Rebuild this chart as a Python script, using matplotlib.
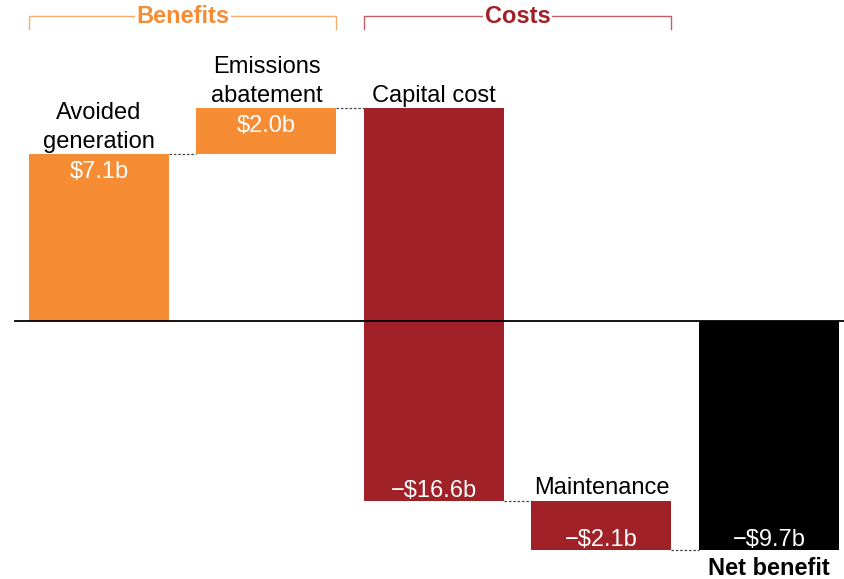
import matplotlib
matplotlib.use("Agg")
import matplotlib.pyplot as plt

# datos del gráfico (en miles de millones)
categorias = ["Avoided\ngeneration", "Emissions\nabatement", "Capital cost", "Maintenance", "Net benefit"]
valores = [7.06, 1.96, -16.64, -2.08]
neto = -9.70

naranja = "#F68D35"
rojo = "#A02228"
colores = [naranja, naranja, rojo, rojo, "black"]


def etiqueta(v):
    s = f"${abs(v):.1f}b"
    return "\u2212" + s if v < 0 else s


def main():
    plt.rcParams["font.family"] = ["Liberation Sans", "DejaVu Sans"]
    fig = plt.figure(figsize=(8.45, 5.79), dpi=100)
    ax = fig.add_axes([0, 0, 1, 1])

    # bases y alturas de la cascada
    bases, alturas = [], []
    acum = 0.0
    for v in valores:
        bases.append(acum)
        alturas.append(v)
        acum += v
    bases.append(0.0)
    alturas.append(neto)

    ancho = 0.836
    xs = range(len(categorias))
    ax.bar(xs, alturas, bottom=bases, width=ancho, color=colores, zorder=2)

    # conectores punteados
    niveles = [b + h for b, h in zip(bases, alturas)]
    for i in range(len(categorias) - 1):
        ax.plot([i + ancho / 2, i + 1 - ancho / 2], [niveles[i], niveles[i]],
                ls=(0, (2, 1.5)), color="#444444", lw=0.9, zorder=1)

    # línea del cero
    ax.plot([-0.5, 4.6], [0, 0], color="black", lw=1.3, zorder=3)

    for i, (b, h) in enumerate(zip(bases, alturas)):
        top = max(b, b + h)
        bot = min(b, b + h)
        if i < len(valores):
            ax.annotate(categorias[i], (i, top), xytext=(0, 1), textcoords="offset points",
                        ha="center", va="bottom", fontsize=17, linespacing=1.42)
        else:
            ax.annotate(categorias[i], (i, bot), xytext=(0, -5), textcoords="offset points",
                        ha="center", va="top", fontsize=17, fontweight="bold")
        if h > 0:
            ax.annotate(etiqueta(h), (i, top), xytext=(0, -5), textcoords="offset points",
                        ha="center", va="top", fontsize=17, color="white")
        else:
            val = neto if i == len(valores) else h
            ax.annotate(etiqueta(val), (i, bot), xytext=(0, 3), textcoords="offset points",
                        ha="center", va="baseline", fontsize=17, color="white")

    # llaves de Beneficios / Costos
    for x0, x1, texto, c_txt, c_lin in [(-ancho / 2, 1 + ancho / 2, "Benefits", naranja, "#F8AE70"),
                                         (2 - ancho / 2, 3 + ancho / 2, "Costs", rojo, "#BE5F65")]:
        y_h, y_b = 12.92, 12.37
        ax.plot([x0, x0, x1, x1], [y_b, y_h, y_h, y_b], color=c_lin, lw=1.0, zorder=1)
        ax.text((x0 + x1) / 2, y_h, texto, ha="center", va="center", fontsize=17,
                fontweight="bold", color=c_txt,
                bbox=dict(facecolor="white", edgecolor="none", pad=1))

    ax.set_xlim(-0.591, 4.454)
    ax.set_ylim(-10.93, 13.6)
    ax.axis("off")

    fig.savefig("out.png", dpi=100)
    plt.close(fig)


if __name__ == "__main__":
    main()
